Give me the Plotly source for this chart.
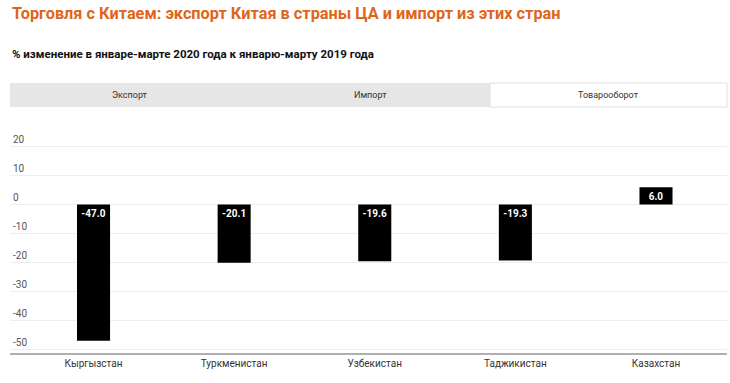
import plotly.graph_objects as go

countries = ["Кыргызстан", "Туркменистан", "Узбекистан", "Таджикистан", "Казахстан"]
values = [-47.0, -20.1, -19.6, -19.3, 6.0]
y_ticks = [20, 10, 0, -10, -20, -30, -40, -50]
tabs = ["Экспорт", "Импорт", "Товарооборот"]

W, H = 730, 383
def px(x): return x / W
def py(y): return 1 - y / H

fig = go.Figure(go.Bar(
    x=list(range(len(countries))), y=values,
    marker=dict(color="#000000", line=dict(width=0)),
    width=0.235,
    texttemplate="%{y:.1f}", textposition="inside", insidetextanchor="start",
    textangle=0, constraintext="none",
    textfont=dict(color="white", size=10, family="Roboto", weight="bold"),
    hoverinfo="skip",
))

fig.update_layout(
    width=W, height=H, margin=dict(l=0, r=0, t=0, b=0),
    paper_bgcolor="white", plot_bgcolor="white", showlegend=False,
    font=dict(family="Roboto", color="#333"),
    xaxis=dict(domain=[px(10), px(727)], range=[-0.594, 4.505],
               tickvals=list(range(len(countries))), ticktext=countries,
               showgrid=False, zeroline=False, showline=True, linecolor="#b0b0b0", linewidth=2,
               ticks="", tickfont=dict(size=10, color="#333"), ticklabelstandoff=0),
    yaxis=dict(domain=[py(353), py(130)], range=[-51.2, 25.7],
               tickvals=y_ticks, ticktext=[str(v) for v in y_ticks],
               ticklabelposition="inside top", showgrid=True, gridcolor="#eeeeee", gridwidth=1,
               zeroline=False, showline=False, ticks="", tickfont=dict(size=10, color="#555")),
)

# Title and subtitle
fig.add_annotation(xref="paper", yref="paper", x=px(10), y=py(14), xanchor="left", yanchor="middle",
                   text="<b>Торговля с Китаем: экспорт Китая в страны ЦА и импорт из этих стран</b>",
                   showarrow=False, font=dict(family="Roboto", size=16.3, color="#e0651a"))
fig.add_annotation(xref="paper", yref="paper", x=px(10), y=py(54), xanchor="left", yanchor="middle",
                   text="<b>% изменение в январе-марте 2020 года к январю-марту 2019 года</b>",
                   showarrow=False, font=dict(family="Roboto", size=11.5, color="#111"))

# Tabs
fig.add_shape(type="rect", xref="paper", yref="paper", x0=px(10), x1=px(490), y0=py(107), y1=py(83),
              fillcolor="#e6e6e6", line=dict(width=0), layer="below")
fig.add_shape(type="rect", xref="paper", yref="paper", x0=px(490), x1=px(727), y0=py(107), y1=py(83),
              fillcolor="white", line=dict(width=1, color="#e0e0e0"), layer="below")
for t, cx in zip(tabs, [130, 370, 608]):
    fig.add_annotation(xref="paper", yref="paper", x=px(cx), y=py(95), xanchor="center", yanchor="middle",
                       text=t, showarrow=False, font=dict(family="Roboto", size=9, color="#333"))

fig.write_html("out.html", config={"displayModeBar": False},
               post_script="document.body.style.margin='0';document.body.style.overflow='hidden';")
